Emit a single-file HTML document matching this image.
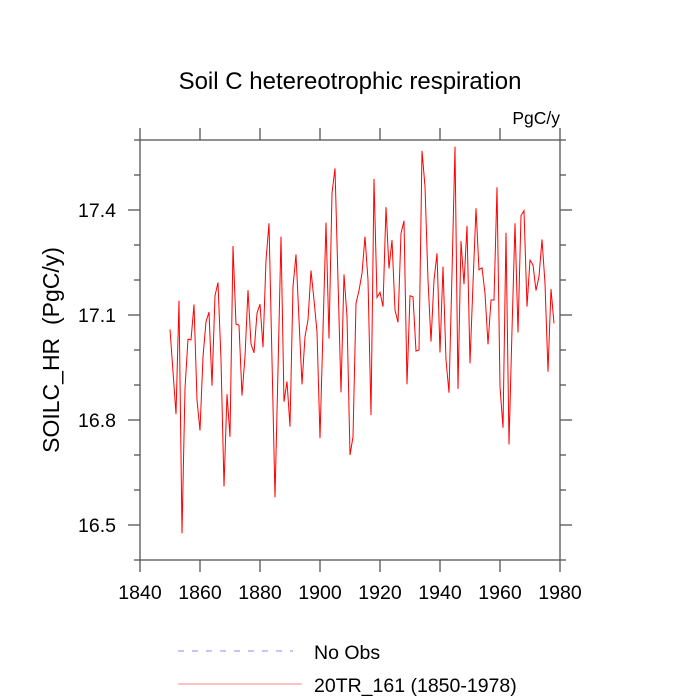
<!DOCTYPE html>
<html><head><meta charset="utf-8"><style>
html,body{margin:0;padding:0;background:#fff;}
svg{display:block;font-family:"Liberation Sans",sans-serif;}
</style></head><body>
<svg id="chart" width="700" height="700" viewBox="0 0 700 700">
<text x="350" y="89" font-size="24" text-anchor="middle">Soil C hetereotrophic respiration</text>
<text x="560" y="124" font-size="17.5" text-anchor="end">PgC/y</text>
<text transform="translate(59,350) rotate(-90)" font-size="23" text-anchor="middle" style="white-space:pre">SOILC_HR  (PgC/y)</text>
<g id="axes"></g>
<polyline id="series" fill="none" stroke="#ff0000" stroke-width="1"/>
<rect x="140" y="140" width="420" height="420" fill="none" stroke="#555" stroke-width="1.3"/>
<line x1="178" y1="651" x2="293" y2="651" stroke="#8888ff" stroke-width="1" stroke-dasharray="6,8"/>
<text x="314" y="659" font-size="19.5">No Obs</text>
<line x1="178" y1="684" x2="302" y2="684" stroke="#ff8080" stroke-width="1"/>
<text x="314" y="692" font-size="19.5">20TR_161 (1850-1978)</text>
</svg>
<script>
const startYear = 1850;
const values = [17.059,16.938,16.817,17.141,16.476,16.890,17.031,17.029,17.130,16.857,
16.770,16.981,17.081,17.108,16.898,17.155,17.193,16.971,16.610,16.874,
16.752,17.297,17.074,17.071,16.870,16.981,17.171,17.017,16.992,17.105,
17.131,17.008,17.257,17.362,16.971,16.579,16.943,17.324,16.852,16.910,
16.781,17.181,17.273,17.086,16.902,17.038,17.086,17.227,17.143,17.052,
16.748,17.057,17.364,17.033,17.448,17.519,17.200,16.879,17.216,17.095,
16.700,16.752,17.133,17.170,17.219,17.324,17.200,16.814,17.489,17.150,
17.165,17.124,17.408,17.233,17.314,17.114,17.079,17.333,17.369,16.902,
17.155,17.152,16.997,17.000,17.569,17.467,17.200,17.024,17.200,17.276,
16.993,17.238,16.971,16.878,17.219,17.581,16.889,17.311,17.188,17.355,
16.962,17.190,17.405,17.229,17.235,17.162,17.016,17.143,17.143,17.465,
16.895,16.778,17.335,16.730,17.057,17.362,17.050,17.384,17.398,17.124,
17.257,17.243,17.170,17.210,17.316,17.190,16.938,17.174,17.076];
const xTicks = [1840,1860,1880,1900,1920,1940,1960,1980];
const yTicks = [16.5,16.8,17.1,17.4];
const yTickLabels = ["16.5","16.8","17.1","17.4"];
const xMin=1840,xMax=1980,yMin=16.4,yMax=17.6;
const L=140,R=560,T=140,B=560;
function sx(v){return L+(v-xMin)/(xMax-xMin)*(R-L);}
function sy(v){return B-(v-yMin)/(yMax-yMin)*(B-T);}
const NS="http://www.w3.org/2000/svg";
const axes=document.getElementById('axes');
function ln(x1,y1,x2,y2,name){const e=document.createElementNS(NS,'line');
e.setAttribute('x1',x1);e.setAttribute('y1',y1);e.setAttribute('x2',x2);e.setAttribute('y2',y2);
e.setAttribute('stroke','#555');e.setAttribute('stroke-width','1.3');


axes.appendChild(e);}
function tx(x,y,s,anchor,name){const e=document.createElementNS(NS,'text');
e.setAttribute('x',x);e.setAttribute('y',y);e.setAttribute('font-size','19.5');e.setAttribute('text-anchor',anchor);e.textContent=s;


axes.appendChild(e);}
xTicks.forEach(v=>{const x=sx(v);ln(x,B,x,B+12,'x-tick');ln(x,T,x,T-12,'x-tick-top');});
xTicks.forEach(v=>tx(sx(v),599,String(v),'middle','x-tick-label'));
for(let k=0;k<=12;k++){const v=yMin+k*0.1;const y=sy(v);const major=yTicks.some(t=>Math.abs(t-v)<1e-6);const len=major?12:6;
ln(L,y,L-len,y,'y-tick');ln(R,y,R+len,y,'y-tick-right');}
yTicks.forEach((v,i)=>tx(116,sy(v)+7,yTickLabels[i],'end','y-tick-label'));
document.getElementById('series').setAttribute('points',values.map((v,i)=>sx(startYear+i)+','+sy(v)).join(' '));
</script>
</body></html>
